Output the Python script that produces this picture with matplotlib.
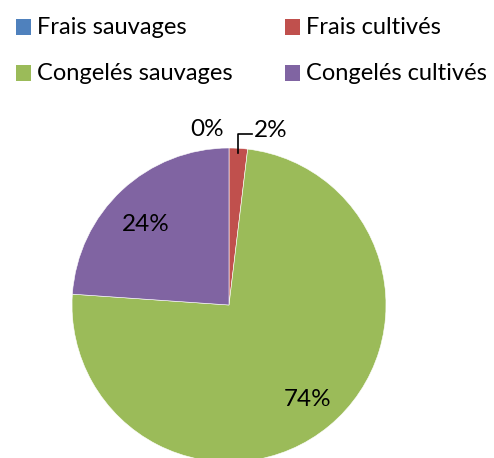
import numpy as np
import matplotlib
matplotlib.use('Agg')
import matplotlib.pyplot as plt
from matplotlib.patches import Rectangle

categories = ['Frais sauvages', 'Frais cultivés', 'Congelés sauvages', 'Congelés cultivés']
values = [0.0, 1.9, 74.2, 23.9]
pct_labels = ['0%', '2%', '74%', '24%']
colors = ['#4F81BD', '#C0504D', '#9BBB59', '#8064A2']

plt.rcParams['font.family'] = ['Lato', 'DejaVu Sans']

W, H = 494, 458
fig = plt.figure(figsize=(W / 100, H / 100), dpi=100)

# pie centre (229, 305) px, radius 157 px
cx, cy, r = 229, H - 305, 157
ax = fig.add_axes([(cx - r) / W, (cy - r) / H, 2 * r / W, 2 * r / H])
wedges, _ = ax.pie(values, colors=colors, startangle=90, counterclock=False,
				   wedgeprops=dict(edgecolor='white', linewidth=0.4))
ax.set_xlim(-1, 1)
ax.set_ylim(-1, 1)
ax.axis('off')

fs = 17.5

# inside labels for big slices
for w, lab in zip(wedges[2:], pct_labels[2:]):
	mid = np.deg2rad((w.theta1 + w.theta2) / 2 + 1.5)
	ax.text(0.76 * np.cos(mid), 0.76 * np.sin(mid) - 0.03, lab, ha='center', va='center', fontsize=fs)

# small slices: labels outside
ax.text(-0.14, 1.115, pct_labels[0], ha='center', va='center', fontsize=fs)
w1 = wedges[1]
mid = np.deg2rad((w1.theta1 + w1.theta2) / 2)
x0, y0 = 0.97 * np.cos(mid), 0.97 * np.sin(mid)
ax.plot([x0, x0, x0 + 0.09], [y0, 1.09, 1.09], color='black', lw=1.2, clip_on=False)
ax.text(x0 + 0.1, 1.11, pct_labels[1], ha='left', va='center', fontsize=fs)

# legend, 2 columns, filled row by row (pixel layout)
col_x = [16, 285]
row_y = [27, 73]
sq = 15
for i, (name, c) in enumerate(zip(categories, colors)):
	x = col_x[i % 2]
	y = row_y[i // 2]
	fig.patches.append(Rectangle(((x) / W, (H - y - sq / 2) / H), sq / W, sq / H,
								 transform=fig.transFigure, facecolor=c, edgecolor='none'))
	fig.text((x + sq + 6) / W, (H - y) / H, name, ha='left', va='center', fontsize=17)

fig.savefig('out.png', dpi=100)
